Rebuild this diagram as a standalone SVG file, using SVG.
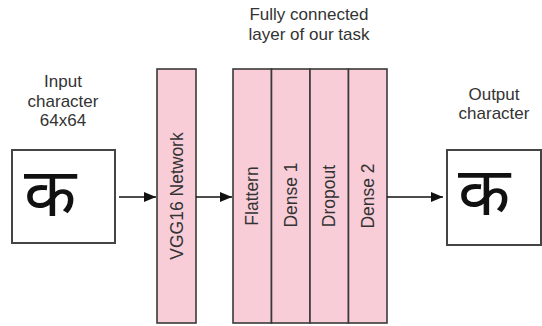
<svg xmlns="http://www.w3.org/2000/svg" width="542" height="326" viewBox="0 0 542 326">
<defs>
<style>
.lbl{font-family:"Liberation Sans",Arial,sans-serif;font-size:17px;fill:#333;text-anchor:middle}
.vl{font-family:"Liberation Sans",Arial,sans-serif;font-size:17.5px;fill:#333;text-anchor:middle}
.layer{fill:#f8cdd8;stroke:#3a3a3a;stroke-width:1.6}
.frame{fill:#fff;stroke:#444;stroke-width:2}
.ka{font-family:"Noto Sans","DejaVu Sans",sans-serif;font-size:68px;fill:#111;text-anchor:middle}
.conn{stroke:#111;stroke-width:1.6;fill:none}
</style>
<marker id="ah" markerWidth="12" markerHeight="10" refX="12" refY="5" orient="auto" markerUnits="userSpaceOnUse">
<path d="M0,0 L12,5 L0,10 Z" fill="#111"/>
</marker>
</defs>
<rect width="542" height="326" fill="#fff"/>

<g id="input">
<text class="lbl" x="63" y="87">Input</text>
<text class="lbl" x="63" y="107">character</text>
<text class="lbl" x="63" y="126">64x64</text>
<rect class="frame" x="12" y="150" width="103" height="93"/>
<text class="ka" x="50" y="216">क</text>
</g>

<g id="vgg">
<rect class="layer" x="157" y="69" width="39" height="254"/>
<text class="vl" transform="translate(182.5,196) rotate(-90)">VGG16 Network</text>
</g>

<g id="fc">
<text class="lbl" x="309" y="20">Fully connected</text>
<text class="lbl" x="309" y="40">layer of our task</text>
<g id="flattern">
<rect class="layer" x="233" y="69" width="38.5" height="254"/>
<text class="vl" transform="translate(258,196) rotate(-90)">Flattern</text>
</g>
<g id="dense1">
<rect class="layer" x="271.5" y="69" width="38.5" height="254"/>
<text class="vl" transform="translate(296.5,195) rotate(-90)">Dense 1</text>
</g>
<g id="dropout">
<rect class="layer" x="310" y="69" width="38.5" height="254"/>
<text class="vl" transform="translate(334.5,196) rotate(-90)">Dropout</text>
</g>
<g id="dense2">
<rect class="layer" x="348.5" y="69" width="38.5" height="254"/>
<text class="vl" transform="translate(373.5,196) rotate(-90)">Dense 2</text>
</g>
</g>

<g id="output">
<text class="lbl" x="494" y="100">Output</text>
<text class="lbl" x="494" y="119">character</text>
<rect class="frame" x="447" y="150" width="94" height="95"/>
<text class="ka" x="484" y="215">क</text>
</g>

<g id="connectors">
<line class="conn" x1="119" y1="197" x2="156" y2="197" marker-end="url(#ah)"/>
<line class="conn" x1="196" y1="197" x2="232" y2="197" marker-end="url(#ah)"/>
<line class="conn" x1="387" y1="197" x2="443" y2="197" marker-end="url(#ah)"/>
</g>
</svg>
